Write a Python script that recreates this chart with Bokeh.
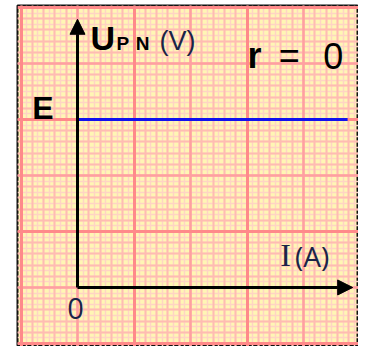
import numpy as np
from bokeh.plotting import figure
from bokeh.models import Range1d, Grid, FixedTicker, Arrow, NormalHead, Label
from bokeh.embed import file_html
from bokeh.resources import INLINE

# ---- data (units: one major square of the graph paper) ----
E_value = 3.0                 # emf level on the U axis
I_line = [0.0, 4.78]          # current range of the U = E line
U_line = [E_value, E_value]   # terminal voltage (r = 0 -> constant)
I_axis_end = 4.87             # length of the I axis arrow
U_axis_end = 4.79             # length of the U axis arrow

x_lo, x_hi = -1.062, 4.973
y_lo, y_hi = -1.054, 5.036
PX_PER_UNIT_Y = 56.0

p = figure(width=358, height=346, title=None,
           x_range=Range1d(x_lo, x_hi), y_range=Range1d(y_lo, y_hi),
           x_axis_type=None, y_axis_type=None,
           output_backend="svg", toolbar_location=None,
           min_border_left=17, min_border_right=0,
           min_border_top=5, min_border_bottom=0,
           background_fill_color="#FFF6B4", border_fill_color="white",
           outline_line_color="#111111", outline_line_width=2)

# graph-paper grid
fine = [round(v, 2) for v in np.arange(-1.0, 5.0, 0.1)]
fifth = [round(v, 2) for v in np.arange(-1.0, 5.0, 0.2)]
major_light = [-2, 0, 2, 4]
major_strong = [-1, 1, 3, 5]
styles = [
    (fine, "#FFD4C4", 1.5),
    (fifth, "#FFBCB2", 2),
    (major_light, "#FFA0A0", 2.5),
    (major_strong, "#FF8A8A", 3),
]
for ticks, col, w in styles:
    for dim in (0, 1):
        g = Grid(dimension=dim, ticker=FixedTicker(ticks=ticks),
                 grid_line_color=col, grid_line_width=w)
        p.add_layout(g)

# U = E line
p.line(I_line, U_line, line_color="#1212EE", line_width=3)

# axes as arrows
p.add_layout(Arrow(end=NormalHead(size=15, fill_color="black", line_color="black"),
                   x_start=0, y_start=0, x_end=0, y_end=U_axis_end,
                   line_color="black", line_width=3))
p.add_layout(Arrow(end=NormalHead(size=15, fill_color="black", line_color="black"),
                   x_start=0, y_start=0, x_end=I_axis_end, y_end=0,
                   line_color="black", line_width=3))

navy = "#1B2447"
labels = [
    dict(text="U", x=0.23, y=4.25, font="Liberation Sans", size=34, style="bold", color="black"),
    dict(text="P", x=0.69, y=4.25, font="Liberation Sans", size=19, style="bold", color="black"),
    dict(text="N", x=1.03, y=4.25, font="Liberation Sans", size=19, style="bold", color="black"),
    dict(text="(V)", x=1.45, y=4.25, font="Liberation Sans", size=27, style="normal", color=navy),
    dict(text="r", x=3.01, y=3.93, font="Liberation Sans", size=36, style="bold", color="black"),
    dict(text="=", x=3.56, y=3.93, font="Liberation Sans", size=36, style="normal", color="black"),
    dict(text="0", x=4.35, y=3.93, font="Liberation Sans", size=36, style="normal", color="black"),
    dict(text="E", x=-0.80, y=E_value + 0.01, font="Liberation Sans", size=32, style="bold", color="black"),
    dict(text="0", x=-0.18, y=-0.554, font="Open Sans", size=29, style="normal", color=navy),
    dict(text="I", x=3.59, y=0.393, font="Liberation Serif", size=32, style="normal", color=navy),
    dict(text="(A)", x=3.85, y=0.393, font="Open Sans", size=28, style="normal", color=navy),
]
for d in labels:
    # Bokeh places the alphabetic baseline about a third of an em low; compensate
    y_adj = d["y"] + 0.33 * d["size"] / PX_PER_UNIT_Y
    p.add_layout(Label(x=d["x"], y=y_adj, text=d["text"], text_font=d["font"],
                       text_font_size=f'{d["size"]}px', text_font_style=d["style"],
                       text_color=d["color"], text_align="left",
                       text_baseline="alphabetic"))

open("out.html", "w").write(file_html(p, INLINE))
